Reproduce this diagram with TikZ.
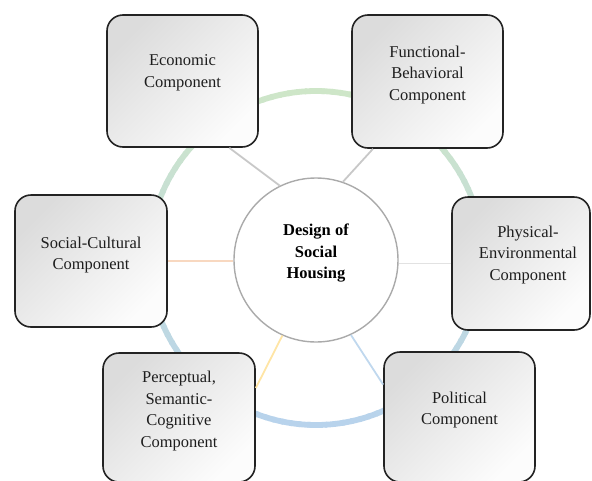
\documentclass[tikz,border=0pt]{standalone}
\usepackage{fontspec}
\setmainfont{Liberation Serif}
\definecolor{boxline}{RGB}{35,35,35}
\definecolor{boxdark}{RGB}{220,220,220}
\definecolor{boxlight}{RGB}{252,252,252}
\definecolor{textc}{RGB}{30,30,30}
\definecolor{circgray}{RGB}{170,170,170}
\definecolor{ringgreen}{RGB}{206,230,200}
\definecolor{ringblue}{RGB}{184,211,236}
\definecolor{conngray}{RGB}{200,200,200}
\definecolor{connpeach}{RGB}{248,216,192}
\definecolor{connlight}{RGB}{226,226,226}
\definecolor{connyellow}{RGB}{255,229,165}
\definecolor{connblue}{RGB}{192,216,238}
\begin{document}
\begin{tikzpicture}[x=1pt,y=-1pt,
  comp/.style={draw=boxline, line width=1.6pt, rounded corners=16pt,
    top color=boxdark, bottom color=boxlight, shading angle=45, inner sep=0pt},
  lbl/.style={align=center, font=\fontsize{16.5}{21.5}\selectfont, text=textc},
  conn/.style={line width=1.8pt}]
\useasboundingbox (0,0) rectangle (592,480);
\clip (0,0) rectangle (592,480);
% ring
\coordinate (rc) at (316,258);
\foreach \a in {0,3,...,357} {
  \pgfmathtruncatemacro\t{50+50*sin(\a+1.5)}
  \draw[line width=5.8pt, draw=ringgreen!\t!ringblue]
    ([shift={(\a:167pt)}]rc) arc[start angle=\a, end angle=\a+3.8, radius=167pt];
}
% boxes
\node[comp, minimum width=151pt, minimum height=132pt] (eco) at (182.5,81) {};
\node[comp, minimum width=151pt, minimum height=133pt] (fun) at (427.5,81.5) {};
\node[comp, minimum width=152pt, minimum height=132pt] (soc) at (91,261) {};
\node[comp, minimum width=138pt, minimum height=133pt] (phy) at (521,263.5) {};
\node[comp, minimum width=152pt, minimum height=129pt] (per) at (179,417.5) {};
\node[comp, minimum width=151pt, minimum height=130pt] (pol) at (459.5,417) {};
% center
\node[circle, draw=circgray, line width=1.4pt, fill=white, minimum size=164pt, inner sep=0pt] (c) at (316,260) {};
% labels
\node[lbl] (ecot) at ([yshift=8pt]eco.center) {Economic\\Component};
\node[lbl] (funt) at ([yshift=6.5pt]fun.center) {Functional-\\Behavioral\\Component};
\node[lbl] (soct) at ([yshift=6pt]soc.center) {Social-Cultural\\Component};
\node[lbl] (phyt) at ([xshift=7pt,yshift=8.5pt]phy.center) {Physical-\\Environmental\\Component};
\node[lbl] (pert) at ([yshift=6.5pt]per.center) {Perceptual,\\Semantic-\\Cognitive\\Component};
\node[lbl] (polt) at ([yshift=7pt]pol.center) {Political\\Component};
\node[lbl, font=\fontsize{16.5}{21.5}\selectfont\bfseries, text=black] (ct) at ([yshift=6.5pt]c.center) {Design of\\Social\\Housing};
% connectors
\draw[conn, draw=conngray] (eco.-55) -- (c.116);
\draw[conn, draw=conngray] (fun.-129) -- (c.71);
\draw[conn, draw=connpeach] (soc.east) -- (soc.east -| c.west);
\draw[conn, draw=connlight] (phy.west) -- (phy.west -| c.east);
\draw[conn, draw=connyellow] (per.21) -- (c.246);
\draw[conn, draw=connblue] (pol.157) -- (c.295);
\end{tikzpicture}
\end{document}
